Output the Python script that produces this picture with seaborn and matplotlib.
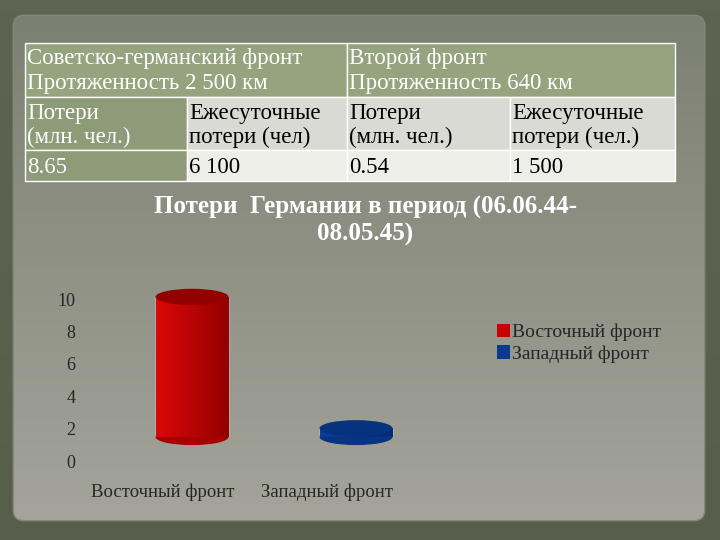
import numpy as np
import matplotlib
matplotlib.use("Agg")
import matplotlib.pyplot as plt
from matplotlib.patches import Rectangle, Ellipse, FancyBboxPatch, Patch
import seaborn as sns

# ---------------- data ----------------
categories = ["Восточный фронт", "Западный фронт"]
losses = [8.65, 0.54]          # млн. чел.
bar_colors = ["#c80000", "#0a3a8c"]
y_ticks = [0, 2, 4, 6, 8, 10]

table_header = ["Советско-германский фронт\nПротяженность 2 500 км",
                "Второй фронт\nПротяженность 640 км"]
table_sub = ["Потери\n(млн. чел.)", "Ежесуточные\nпотери (чел)",
             "Потери\n(млн. чел.)", "Ежесуточные\nпотери (чел.)"]
table_vals = ["8.65", "6 100", "0.54", "1 500"]
title = "Потери  Германии в период (06.06.44-\n08.05.45)"

sns.set_theme(style="white")
plt.rcParams['font.family'] = ['Liberation Serif', 'DejaVu Serif']

W, H = 720, 540
fig = plt.figure(figsize=(7.2, 5.4), dpi=100)
fig.patch.set_facecolor("#5f6452")

def fx(px):
    return px / W

def fy(py):
    return 1 - py / H

# ---------------- background ----------------
bg = fig.add_axes([0, 0, 1, 1])
bg.set_xlim(0, W)
bg.set_ylim(H, 0)
bg.axis("off")
outer = np.array([[95, 100, 82], [88, 94, 76]]) / 255
bg.imshow(np.linspace(0, 1, 50)[:, None, None] * (outer[1] - outer[0]) + outer[0],
          extent=[0, W, H, 0], aspect="auto", zorder=0)
paper = FancyBboxPatch((14, 16), 690, 504, boxstyle="round,pad=0,rounding_size=10",
                       facecolor="#9a9c8e", edgecolor="#84887a", lw=2, zorder=1)
bg.add_patch(paper)
top_c = np.array([124, 128, 114]) / 255
bot_c = np.array([164, 164, 154]) / 255
grad = np.linspace(0, 1, 200)[:, None, None] * (bot_c - top_c) + top_c
im = bg.imshow(grad, extent=[14, 704, 520, 16], aspect="auto", zorder=2)
im.set_clip_path(paper)
bg.set_xlim(0, W)
bg.set_ylim(H, 0)

# ---------------- table ----------------
col_x = [25, 187, 347, 510, 675]
row_y = [43, 97, 150, 181]
green = "#95a47f"
green2 = "#8d9b78"
light1 = "#d9dad3"
light2 = "#eeeee9"
fs_tab = 16.5

def cell(x0, x1, y0, y1, color):
    bg.add_patch(Rectangle((x0, y0), x1 - x0, y1 - y0, facecolor=color,
                           edgecolor="white", lw=1.0, zorder=3))

cell(col_x[0], col_x[2], row_y[0], row_y[1], green)
cell(col_x[2], col_x[4], row_y[0], row_y[1], green)
for i in range(4):
    cell(col_x[i], col_x[i + 1], row_y[1], row_y[2], green2 if i == 0 else light1)
    cell(col_x[i], col_x[i + 1], row_y[2], row_y[3], green2 if i == 0 else light2)

for j, txt in enumerate(table_header):
    bg.text(col_x[2 * j] + 2, (row_y[0] + row_y[1]) / 2 + 1, txt, color="white",
            fontsize=fs_tab, ha="left", va="center", linespacing=1.3, zorder=4)
for i, txt in enumerate(table_sub):
    bg.text(col_x[i] + 2, (row_y[1] + row_y[2]) / 2 + 2, txt,
            color="white" if i == 0 else "black",
            fontsize=fs_tab, ha="left", va="center", linespacing=1.22, zorder=4)
for i, txt in enumerate(table_vals):
    bg.text(col_x[i] + 2, (row_y[2] + row_y[3]) / 2 + 2, txt,
            color="white" if i == 0 else "black",
            fontsize=fs_tab, ha="left", va="center", zorder=4)

# ---------------- title ----------------
fig.text(fx(365), fy(221), title, color="white", fontsize=18, fontweight="bold",
         ha="center", va="center", linespacing=1.2)

# ---------------- chart: back wall (axis) ----------------
ax_left, ax_w = 81, 328
y0_px, y10_px = 461, 299
wall = fig.add_axes([fx(ax_left), fy(y0_px), ax_w / W, (y0_px - y10_px) / H])
wall.patch.set_alpha(0)
wall.set_xlim(-0.5, 1.5)
wall.set_ylim(0, 10)
wall.set_yticks(y_ticks)
wall.set_yticklabels([str(t) for t in y_ticks], fontsize=13)
wall.tick_params(axis="y", length=0, pad=4)
wall.set_xticks(range(len(categories)))
wall.set_xticklabels(categories, fontsize=13.5)
wall.tick_params(axis="x", length=0, pad=16)
for s in wall.spines.values():
    s.set_visible(False)

# ---------------- chart: front (3D-shifted cylinders) ----------------
dx, dy = 29, 24
front = fig.add_axes([fx(ax_left + dx), fy(y0_px - dy), ax_w / W, (y0_px - y10_px) / H])
front.patch.set_alpha(0)
sns.barplot(x=categories, y=losses, hue=categories, palette=bar_colors,
            saturation=1, width=0.445, legend=False, ax=front)
front.set_xlim(-0.5, 1.5)
front.set_ylim(0, 10)
front.axis("off")

shade = {"#c80000": ("#940000", "#a80000", (0.86, 0.03, 0.03), (0.58, 0.0, 0.0)),
         "#0a3a8c": ("#07327e", "#08337f", (0.05, 0.24, 0.6), (0.0, 0.17, 0.47))}
ell_h = 1.0
for patch, col in zip(front.patches, bar_colors):
    x0, w, h = patch.get_x(), patch.get_width(), patch.get_height()
    cap, base, cl, cr = shade[col]
    patch.set_zorder(3)
    front.add_patch(Ellipse((x0 + w / 2, 0), w, ell_h, facecolor=base,
                            edgecolor="none", zorder=2, clip_on=False))
    g = np.linspace(0, 1, 100)[None, :, None] * (np.array(cr) - np.array(cl)) + np.array(cl)
    gi = front.imshow(g, extent=[x0, x0 + w, 0, h], aspect="auto", zorder=4)
    gi.set_clip_path(patch)
    front.add_patch(Ellipse((x0 + w / 2, h), w, ell_h, facecolor=cap,
                            edgecolor="none", zorder=5, clip_on=False))
front.set_xlim(-0.5, 1.5)
front.set_ylim(0, 10)
front.set_aspect("auto")

# ---------------- legend ----------------
handles = [Patch(facecolor=c, edgecolor="none") for c in bar_colors]
fig.legend(handles, categories, loc="upper left",
           bbox_to_anchor=(fx(489), fy(316)), frameon=False, fontsize=14,
           handlelength=0.7, handleheight=0.7, handletextpad=0.1,
           labelspacing=0.2, borderaxespad=0)

fig.savefig("out.png", dpi=100, facecolor=fig.get_facecolor())
